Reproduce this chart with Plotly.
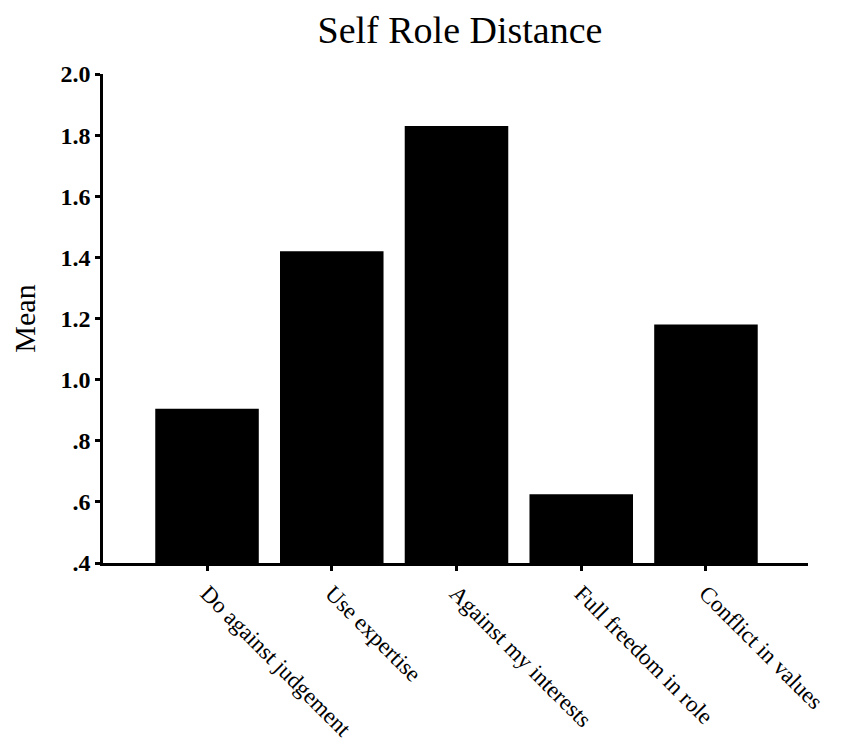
import plotly.graph_objects as go

categories = ["Do against judgement", "Use expertise", "Against my interests",
              "Full freedom in role", "Conflict in values"]
means = [0.905, 1.42, 1.83, 0.625, 1.18]
y_tick_vals = [0.4, 0.6, 0.8, 1.0, 1.2, 1.4, 1.6, 1.8, 2.0]
y_tick_text = [".4", ".6", ".8", "1.0", "1.2", "1.4", "1.6", "1.8", "2.0"]

serif = "Liberation Serif, Times New Roman, serif"

fig = go.Figure(go.Bar(
    x=list(range(len(categories))),
    y=means,
    width=0.83,
    marker=dict(color="black", line=dict(width=0)),
))

fig.update_layout(
    width=834, height=738,
    paper_bgcolor="white", plot_bgcolor="white",
    margin=dict(l=95, r=34, t=66, b=183, autoexpand=False),
    showlegend=False,
    title=dict(text="Self Role Distance", x=0.542, xanchor="center",
               y=0.97, yanchor="middle",
               font=dict(family=serif, size=38, color="black")),
    font=dict(family=serif, color="black"),
)

fig.update_xaxes(
    range=[-0.834, 4.818],
    tickmode="array",
    tickvals=list(range(len(categories))),
    ticktext=categories,
    tickangle=45,
    automargin=False,
    tickfont=dict(family=serif, size=23, color="black"),
    showline=True, linecolor="black", linewidth=2.5,
    ticks="outside", ticklen=5, tickwidth=3, tickcolor="black",
    showgrid=False, zeroline=False,
)

fig.update_yaxes(
    range=[0.4, 2.0],
    tickmode="array",
    tickvals=y_tick_vals,
    ticktext=y_tick_text,
    automargin=False,
    tickfont=dict(family=serif, size=24, color="black", weight="bold"),
    title=dict(text="Mean", font=dict(family=serif, size=30, color="black"), standoff=32),
    showline=True, linecolor="black", linewidth=2.5,
    ticks="outside", ticklen=5, tickwidth=3, tickcolor="black",
    showgrid=False, zeroline=False,
)

fig.write_html("out.html")
